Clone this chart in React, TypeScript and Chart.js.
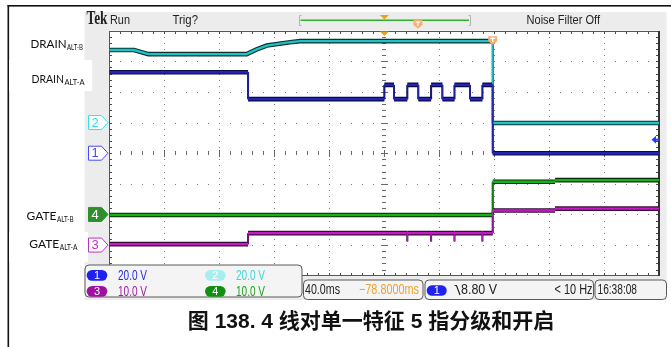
import React, { useEffect, useRef } from "react";
import { Chart, registerables } from "chart.js";
Chart.register(...registerables);

// ---------- data (time in ms from left edge of screen, values in volts) ----------
const ch1Time = [0, 100.9, 100.9, 200, 200, 207, 207, 216.7, 216.7, 224.7, 224.7, 234, 234, 242.2, 242.2, 251, 251, 262.3, 262.3, 271.3, 271.3, 278.8, 278.8, 400];
const ch1Volts = [52.9, 52.9, 35.3, 35.3, 44.6, 44.6, 35.3, 35.3, 44.6, 44.6, 35.3, 35.3, 44.6, 44.6, 35.3, 35.3, 44.6, 44.6, 35.3, 35.3, 44.6, 44.6, 0, 0];

const ch2Time = [0, 18, 28.4, 99.9, 107.2, 114.5, 131.4, 138.7, 200, 278.8, 278.8, 400];
const ch2Volts = [47.4, 47.4, 44.7, 44.7, 47.8, 50.3, 52.5, 53.2, 53.2, 53.2, -0.3, -0.3];

const ch3Time = [0, 100.9, 100.9, 216.7, 216.7, 216.7, 234, 234, 234, 251, 251, 251, 271.3, 271.3, 271.3, 278.8, 278.8, 324.1, 324.1, 400];
const ch3Volts = [0.3, 0.3, 3.9, 3.9, 1.2, 3.9, 3.9, 1.2, 3.9, 3.9, 1.2, 3.9, 3.9, 1.2, 3.9, 3.9, 11.3, 11.3, 11.9, 11.9];

const ch4Time = [0, 278.8, 278.8, 324.1, 324.1, 400];
const ch4Volts = [-0.2, -0.2, 10.7, 10.7, 11.2, 11.2];

// scope settings
const chNames = ["1", "2", "3", "4"];
const chVoltsPerDiv = [20, 20, 10, 10];
const chOffsetDiv = [0, 1, -3, -2];
const chScaleText = ["20.0 V", "20.0 V", "10.0 V", "10.0 V"];
const msPerDiv = 40;
const hDivs = 10;
const vDivs = 8;
const timebaseText = "40.0ms";
const delayText = "\u221278.8000ms";
const trigLevel = 8.8;
const trigText = "8.80 V";
const freqText = "< 10 Hz";
const clockText = "16:38:08";
const trigTime = 278.8;
const leftMain = ["DRAIN", "DRAIN", "GATE", "GATE"];
const leftSub = ["ALT-B", "ALT-A", "ALT-B", "ALT-A"];
const caption = "图 138. 4 线对单一特征 5 指分级和开启";

const W = 671;
const H = 347;

const traceColor = ["#2424b4", "#1ec2c2", "#c21cc2", "#18b018"];
const traceDark = ["#0a0a45", "#0d3030", "#3a0a3a", "#0a2a0a"];
const markColor = ["#4848ff", "#38e0e0", "#c030c0", "#2f8f2f"];
const pillColor = ["#2020f0", "#a8eeee", "#a010a0", "#109010"];
const textColor = ["#2a2ae0", "#40d6d6", "#a020a0", "#20a020"];

const UI = "Liberation Sans, Arial, sans-serif";

function txt(ctx: CanvasRenderingContext2D, s: string, x: number, y: number, font: string, color: string, maxW?: number, align: CanvasTextAlign = "left") {
  ctx.font = font;
  ctx.fillStyle = color;
  ctx.textAlign = align;
  ctx.textBaseline = "middle";
  if (maxW) ctx.fillText(s, x, y, maxW);
  else ctx.fillText(s, x, y);
}

function rrect(ctx: CanvasRenderingContext2D, x: number, y: number, w: number, h: number, r: number) {
  ctx.beginPath();
  ctx.moveTo(x + r, y);
  ctx.lineTo(x + w - r, y);
  ctx.arcTo(x + w, y, x + w, y + r, r);
  ctx.lineTo(x + w, y + h - r);
  ctx.arcTo(x + w, y + h, x + w - r, y + h, r);
  ctx.lineTo(x + r, y + h);
  ctx.arcTo(x, y + h, x, y + h - r, r);
  ctx.lineTo(x, y + r);
  ctx.arcTo(x, y, x + r, y, r);
  ctx.closePath();
}

function pill(ctx: CanvasRenderingContext2D, x: number, y: number, w: number, h: number, color: string, label: string) {
  rrect(ctx, x, y, w, h, h / 2);
  ctx.fillStyle = color;
  ctx.fill();
  txt(ctx, label, x + w / 2, y + h / 2 + 0.5, `11px ${UI}`, "#fff", undefined, "center");
}

function box(ctx: CanvasRenderingContext2D, x: number, y: number, w: number, h: number) {
  rrect(ctx, x + 0.5, y + 0.5, w, h, 4);
  ctx.fillStyle = "#f4f4f4";
  ctx.fill();
  ctx.strokeStyle = "#5a5a5a";
  ctx.lineWidth = 1;
  ctx.stroke();
}

function downShield(ctx: CanvasRenderingContext2D, cx: number, top: number, color: string) {
  ctx.beginPath();
  ctx.moveTo(cx - 4.5, top);
  ctx.lineTo(cx + 4.5, top);
  ctx.lineTo(cx + 4.5, top + 5);
  ctx.lineTo(cx, top + 8.5);
  ctx.lineTo(cx - 4.5, top + 5);
  ctx.closePath();
  ctx.fillStyle = color;
  ctx.fill();
  ctx.fillStyle = "#fff";
  ctx.fillRect(cx - 2.5, top + 1.5, 5, 1.2);
  ctx.fillRect(cx - 0.6, top + 1.5, 1.2, 4.5);
}

function downTri(ctx: CanvasRenderingContext2D, cx: number, top: number, color: string) {
  ctx.beginPath();
  ctx.moveTo(cx - 4.5, top);
  ctx.lineTo(cx + 4.5, top);
  ctx.lineTo(cx, top + 4.5);
  ctx.closePath();
  ctx.fillStyle = color;
  ctx.fill();
}

const scopePlugin = {
  id: "scope",
  beforeDraw(chart: any) {
    const ctx: CanvasRenderingContext2D = chart.ctx;
    const a = chart.chartArea;
    ctx.save();
    ctx.fillStyle = "#fff";
    ctx.fillRect(0, 0, W, H);
    // figure frame
    ctx.fillStyle = "#111";
    ctx.fillRect(7.5, 5, W - 7.5, 1.6);
    ctx.fillRect(7.5, 5, 1.6, H - 5);
    // scope gray panel
    ctx.fillStyle = "#ececec";
    ctx.fillRect(84.5, 12, 582, 288);
    // plot area
    ctx.fillStyle = "#fff";
    ctx.fillRect(a.left, a.top, a.right - a.left, a.bottom - a.top);
    ctx.restore();
  },
  beforeDatasetsDraw(chart: any) {
    const ctx: CanvasRenderingContext2D = chart.ctx;
    const a = chart.chartArea;
    const xs = chart.scales.x;
    const yd = chart.scales.yDiv;
    const gx = (d: number) => xs.getPixelForValue(d * msPerDiv);
    const gy = (d: number) => yd.getPixelForValue(d);
    ctx.save();
    // dotted grid
    ctx.fillStyle = "#7c7c7c";
    for (let i = 1; i < hDivs; i++) {
      if (i === hDivs / 2) continue;
      const x = Math.round(gx(i));
      for (let j = 1; j < vDivs * 5; j++) {
        ctx.fillRect(x, Math.round(gy(-vDivs / 2 + j / 5)), 1, 1);
      }
    }
    for (let k = -vDivs / 2 + 1; k < vDivs / 2; k++) {
      if (k === 0) continue;
      const y = Math.round(gy(k));
      for (let j = 1; j < hDivs * 5; j++) {
        ctx.fillRect(Math.round(gx(j / 5)), y, 1, 1);
      }
    }
    // center cross with ticks
    ctx.fillStyle = "#6a6a6a";
    const cy = Math.round(gy(0));
    const cx = Math.round(gx(hDivs / 2));
    for (let j = 1; j < hDivs * 5; j++) {
      const major = j % 5 === 0;
      ctx.fillRect(Math.round(gx(j / 5)), cy - (major ? 3 : 2), 1, major ? 7 : 4);
    }
    for (let j = 1; j < vDivs * 5; j++) {
      const major = j % 5 === 0;
      ctx.fillRect(cx - (major ? 3 : 2), Math.round(gy(-vDivs / 2 + j / 5)), major ? 7 : 4, 1);
    }
    // edge ticks
    ctx.fillStyle = "#4a4a4a";
    for (let j = 1; j < hDivs * 5; j++) {
      const x = Math.round(gx(j / 5));
      ctx.fillRect(x, Math.round(a.top), 1, 3);
      ctx.fillRect(x, Math.round(a.bottom) - 3, 1, 3);
    }
    for (let j = 1; j < vDivs * 5; j++) {
      const y = Math.round(gy(-vDivs / 2 + j / 5));
      ctx.fillRect(Math.round(a.left), y, 3, 1);
      ctx.fillRect(Math.round(a.right) - 3, y, 3, 1);
    }
    // border
    ctx.strokeStyle = "#555";
    ctx.lineWidth = 1;
    ctx.strokeRect(Math.round(a.left) + 0.5, Math.round(a.top) + 0.5, Math.round(a.right - a.left) - 1, Math.round(a.bottom - a.top) - 1);
    ctx.fillStyle = "#333";
    ctx.fillRect(Math.round(a.right) - 1, Math.round(a.top), 2, Math.round(a.bottom - a.top));
    ctx.restore();
  },
  afterDatasetsDraw(chart: any) {
    const ctx: CanvasRenderingContext2D = chart.ctx;
    const a = chart.chartArea;
    const xs = chart.scales.x;
    ctx.save();

    // top status bar
    txt(ctx, "Tek", 86.5, 19.5, `bold 18px "Liberation Serif", serif`, "#222", 21);
    txt(ctx, "Run", 110, 20.5, `13px ${UI}`, "#222", 20);
    txt(ctx, "Trig?", 172.5, 20.5, `13px ${UI}`, "#222", 25.5);
    txt(ctx, "Noise Filter Off", 526.5, 20.5, `13px ${UI}`, "#222", 73.5);
    // record bar
    ctx.strokeStyle = "#b4b4b4";
    ctx.lineWidth = 1;
    ctx.beginPath();
    ctx.moveTo(301.5, 15.5); ctx.lineTo(299.5, 15.5); ctx.lineTo(299.5, 25.5); ctx.lineTo(301.5, 25.5);
    ctx.moveTo(468.5, 15.5); ctx.lineTo(470.5, 15.5); ctx.lineTo(470.5, 25.5); ctx.lineTo(468.5, 25.5);
    ctx.stroke();
    ctx.fillStyle = "#2eb02e";
    ctx.fillRect(300.5, 19.5, 168.5, 1.5);
    const center = xs.getPixelForValue((hDivs / 2) * msPerDiv);
    const trigX = xs.getPixelForValue(trigTime);
    downTri(ctx, center, 15, "#f0a020");
    downShield(ctx, 300.5 + (168.5 * trigTime) / (hDivs * msPerDiv), 20, "#f5ae6e");
    // markers on graticule
    downTri(ctx, center, a.top + 0.8, "#f0a020");
    downShield(ctx, trigX, a.top + 5.5, "#f5ae6e");

    // trigger level arrow (ch1)
    const ty = chart.scales.y1.getPixelForValue(trigLevel);
    ctx.fillStyle = "#2040ff";
    ctx.beginPath();
    ctx.moveTo(651.5, ty);
    ctx.lineTo(656, ty - 4);
    ctx.lineTo(656, ty + 4);
    ctx.closePath();
    ctx.fill();
    ctx.fillRect(655, ty - 1, 4.5, 2);

    // white label patches and labels
    ctx.fillStyle = "#fff";
    ctx.fillRect(9.1, 60, 83, 31);
    ctx.fillRect(9.1, 232, 79, 30);
    const lblX = [30.5, 31.5, 26.5, 29.3];
    const lblW = [36, 32.5, 31.5, 31.4];
    const lblSubW = [16, 20.5, 16.7, 17.6];
    const lblY = [44, 79.2, 216, 244.3];
    for (let i = 0; i < 4; i++) {
      const f = `12px Lato, "Open Sans", sans-serif`;
      ctx.font = f;
      const mw = Math.min(ctx.measureText(leftMain[i]).width, lblW[i]);
      txt(ctx, leftMain[i], lblX[i], lblY[i], f, "#111", lblW[i]);
      txt(ctx, leftSub[i], lblX[i] + mw + 0.5, lblY[i] + 3.5, `7.5px Lato, "Open Sans", sans-serif`, "#111", lblSubW[i]);
    }

    // channel ground markers
    for (let c = 0; c < 4; c++) {
      const y = chart.scales["y" + (c + 1)].getPixelForValue(0);
      const filled = c === 3;
      ctx.beginPath();
      ctx.moveTo(88.5, y - 7);
      ctx.lineTo(101.5, y - 7);
      ctx.lineTo(108, y);
      ctx.lineTo(101.5, y + 7);
      ctx.lineTo(88.5, y + 7);
      ctx.closePath();
      ctx.fillStyle = filled ? markColor[c] : "#fff";
      ctx.fill();
      ctx.strokeStyle = markColor[c];
      ctx.lineWidth = 1;
      ctx.stroke();
      txt(ctx, chNames[c], 95, y + 0.5, `13px ${UI}`, filled ? "#fff" : markColor[c], undefined, "center");
    }

    // bottom info boxes
    box(ctx, 84.5, 264.5, 217, 32);
    const rowY = [270, 286];
    const pillX = [86.7, 205];
    const valX = [118, 236];
    [0, 1, 2, 3].forEach((c) => {
      const r = Math.floor(c / 2);
      const col = c % 2;
      pill(ctx, pillX[col], rowY[r], 20.6, 10.7, pillColor[c], chNames[c]);
      txt(ctx, chScaleText[c], valX[col], rowY[r] + 5.7, `14px ${UI}`, textColor[c], 29);
    });

    box(ctx, 303, 279.5, 119.5, 19.5);
    txt(ctx, timebaseText, 305, 290, `14px ${UI}`, "#222", 35);
    txt(ctx, delayText, 359, 290, `14px ${UI}`, "#f0a030", 60);

    box(ctx, 424.5, 279.5, 168.5, 19.5);
    pill(ctx, 426.7, 285.2, 20, 10.5, pillColor[0], chNames[0]);
    ctx.strokeStyle = "#222";
    ctx.lineWidth = 1.2;
    ctx.beginPath();
    ctx.moveTo(454.5, 285.5);
    ctx.lineTo(456.5, 285.5);
    ctx.lineTo(460, 295);
    ctx.stroke();
    txt(ctx, trigText, 461, 290.5, `14px ${UI}`, "#222", 36);
    txt(ctx, freqText, 592.5, 290.5, `14px ${UI}`, "#222", 38, "right");

    box(ctx, 594.5, 279.5, 71.5, 19.5);
    txt(ctx, clockText, 597.5, 290.5, `14px ${UI}`, "#222", 39.5);

    // caption
    txt(ctx, caption, 371, 322, `bold 21px "Liberation Sans", "Noto Sans CJK SC", sans-serif`, "#111", 372, "center");

    ctx.restore();
  },
};

function buildDatasets() {
  const times = [ch1Time, ch2Time, ch3Time, ch4Time];
  const volts = [ch1Volts, ch2Volts, ch3Volts, ch4Volts];
  const out: any[] = [];
  for (let c = 0; c < 4; c++) {
    const pts = times[c].map((t, i) => ({ x: t, y: volts[c][i] }));
    const vert = (w: number) => (s: any) => (s.p0.parsed.x === s.p1.parsed.x ? w : undefined);
    out.push({
      data: pts,
      yAxisID: "y" + (c + 1),
      borderColor: traceDark[c],
      borderWidth: 4.6,
      pointRadius: 0,
      tension: 0,
      order: 10 + c,
      segment: { borderWidth: vert(2) },
    });
    out.push({
      data: pts,
      yAxisID: "y" + (c + 1),
      borderColor: traceColor[c],
      borderWidth: 2.4,
      pointRadius: 0,
      tension: 0,
      order: c,
      segment: { borderWidth: vert(0.8) },
    });
  }
  return out;
}

function chAxis(c: number) {
  return {
    type: "linear",
    display: false,
    min: (-vDivs / 2 - chOffsetDiv[c]) * chVoltsPerDiv[c],
    max: (vDivs / 2 - chOffsetDiv[c]) * chVoltsPerDiv[c],
  };
}

export default function App() {
  const ref = useRef<HTMLCanvasElement>(null);
  useEffect(() => {
    const canvas = ref.current!;
    const chart = new Chart(canvas, {
      type: "line",
      data: { datasets: buildDatasets() },
      options: {
        responsive: false,
        animation: false,
        events: [],
        layout: { padding: { left: 109.3, right: 11.6, top: 30.7, bottom: 71.3 } },
        plugins: { legend: { display: false }, tooltip: { enabled: false } },
        scales: {
          x: { type: "linear", display: false, min: 0, max: hDivs * msPerDiv },
          yDiv: { type: "linear", display: false, min: -vDivs / 2, max: vDivs / 2 },
          y1: chAxis(0),
          y2: chAxis(1),
          y3: chAxis(2),
          y4: chAxis(3),
        },
      } as any,
      plugins: [scopePlugin as any],
    });
    return () => chart.destroy();
  }, []);
  return (
    <div style={{ position: "absolute", left: 0, top: 0, width: W, height: H, background: "#fff" }}>
      <canvas ref={ref} width={W} height={H} style={{ display: "block", width: W, height: H }} />
    </div>
  );
}
